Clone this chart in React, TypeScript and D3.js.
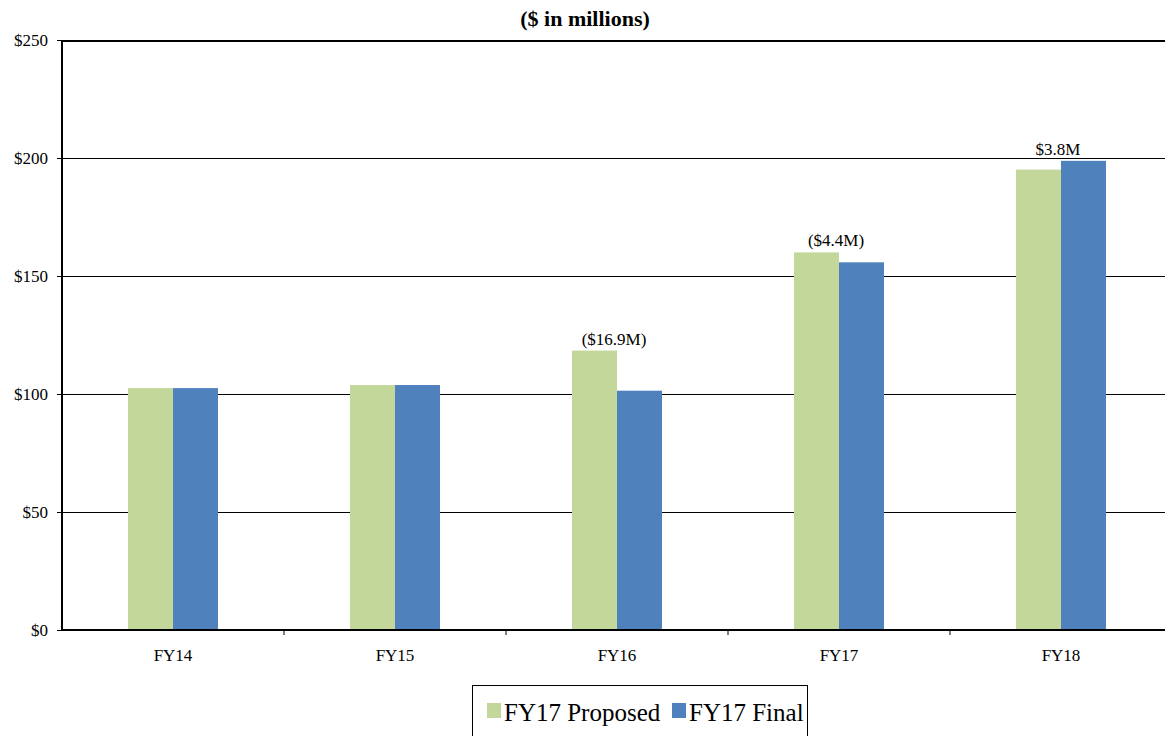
import React from "react";
import * as d3 from "d3";

const categories = ["FY14", "FY15", "FY16", "FY17", "FY18"];
const proposed = [102.5, 103.8, 118.4, 160.0, 195.1];
const final = [102.5, 103.8, 101.4, 155.8, 198.8];
const diffLabels = ["", "", "($16.9M)", "($4.4M)", "$3.8M"];
const yTicks = [0, 50, 100, 150, 200, 250];
const seriesNames = ["FY17 Proposed", "FY17 Final"];
const colors = ["#c4d79b", "#4f81bd"];

const font = '"Liberation Serif"';
const T = (props: any) => <text {...props} style={{ fontFamily: font }} />;

export default function App() {
  const W = 1165, H = 736;
  const left = 62, right = 1172, top = 40, bottom = 630;
  const x = d3.scaleBand().domain(categories).range([left, right]).paddingInner(0).paddingOuter(0);
  const y = d3.scaleLinear().domain([0, 250]).range([bottom, top]);
  const bw = 45;
  return (
    <svg width={W} height={H} style={{ position: "absolute", left: 0, top: 0 }}>
      <rect width={W} height={H} fill="#fff" />
      <T x={585} y={26} textAnchor="middle" fontSize={22} fontWeight="bold">($ in millions)</T>
      {yTicks.map((t) => (
        <g key={t}>
          {t > 0 && <line x1={left} x2={right} y1={y(t) + 0.5} y2={y(t) + 0.5} stroke="#000" strokeWidth={t === 250 ? 2 : 1} shapeRendering="crispEdges" />}
          <line x1={57} x2={left} y1={y(t) + 0.5} y2={y(t) + 0.5} stroke="#000" strokeWidth={1} shapeRendering="crispEdges" />
          <T x={48} y={y(t) + 6} textAnchor="end" fontSize={17}>{"$" + t}</T>
        </g>
      ))}
      {categories.map((c, i) => {
        const cx = (x(c) as number) + x.bandwidth() / 2;
        const maxV = Math.max(proposed[i], final[i]);
        return (
          <g key={c}>
            <rect x={cx - bw} y={y(proposed[i])} width={bw} height={bottom - y(proposed[i])} fill={colors[0]} />
            <rect x={cx} y={y(final[i])} width={bw} height={bottom - y(final[i])} fill={colors[1]} />
            <T x={cx} y={661} textAnchor="middle" fontSize={17}>{c}</T>
            {diffLabels[i] && (
              <T x={cx - 3} y={y(maxV) - 6} textAnchor="middle" fontSize={17}>{diffLabels[i]}</T>
            )}
          </g>
        );
      })}
      {categories.slice(1).map((c) => (
        <line key={c} x1={x(c) as number} x2={x(c) as number} y1={bottom} y2={bottom + 5} stroke="#000" strokeWidth={1} />
      ))}
      <line x1={left} x2={right} y1={bottom} y2={bottom} stroke="#000" strokeWidth={2} />
      <line x1={left} x2={left} y1={top} y2={bottom} stroke="#000" strokeWidth={2} />
      <rect x={472.5} y={685.5} width={335} height={60} fill="#fff" stroke="#000" strokeWidth={1} />
      <rect x={487} y={703} width={14} height={15} fill={colors[0]} />
      <T x={504} y={721} fontSize={25}>{seriesNames[0]}</T>
      <rect x={672} y={703} width={14} height={15} fill={colors[1]} />
      <T x={689} y={721} fontSize={25}>{seriesNames[1]}</T>
    </svg>
  );
}
